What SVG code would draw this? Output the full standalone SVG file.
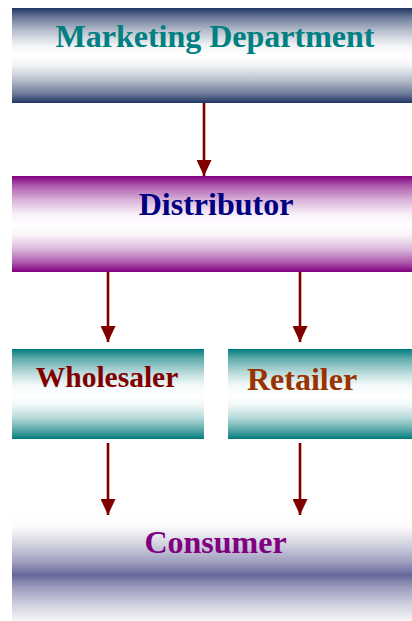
<svg xmlns="http://www.w3.org/2000/svg" width="412" height="621" viewBox="0 0 412 621">
  <style>
    .label { font-family: "Liberation Serif", "Times New Roman", serif; font-weight: bold; font-size: 32px; text-anchor: middle; }
    .conn { stroke: #800000; stroke-width: 2.6; fill: none; }
  </style>
  <defs>
    <linearGradient id="gNavy" x1="0" y1="0" x2="0" y2="1">
      <stop offset="0" stop-color="#1f3563"/>
      <stop offset="0.1" stop-color="#6d7c9a"/>
      <stop offset="0.25" stop-color="#bcc2d0"/>
      <stop offset="0.4" stop-color="#f4f5f7"/>
      <stop offset="0.5" stop-color="#ffffff"/>
      <stop offset="0.6" stop-color="#f4f5f7"/>
      <stop offset="0.75" stop-color="#bcc2d0"/>
      <stop offset="0.9" stop-color="#6d7c9a"/>
      <stop offset="1" stop-color="#1f3563"/>
    </linearGradient>
    <linearGradient id="gPurple" x1="0" y1="0" x2="0" y2="1">
      <stop offset="0" stop-color="#800080"/>
      <stop offset="0.1" stop-color="#ad59ad"/>
      <stop offset="0.25" stop-color="#d9b3d9"/>
      <stop offset="0.4" stop-color="#f9f2f9"/>
      <stop offset="0.52" stop-color="#ffffff"/>
      <stop offset="0.62" stop-color="#f9f2f9"/>
      <stop offset="0.77" stop-color="#d9b3d9"/>
      <stop offset="0.9" stop-color="#ad59ad"/>
      <stop offset="1" stop-color="#800080"/>
    </linearGradient>
    <linearGradient id="gTeal" x1="0" y1="0" x2="0" y2="1">
      <stop offset="0" stop-color="#007b7b"/>
      <stop offset="0.1" stop-color="#59a9a9"/>
      <stop offset="0.25" stop-color="#b3d7d7"/>
      <stop offset="0.4" stop-color="#f2f9f9"/>
      <stop offset="0.52" stop-color="#ffffff"/>
      <stop offset="0.62" stop-color="#f2f9f9"/>
      <stop offset="0.77" stop-color="#b3d7d7"/>
      <stop offset="0.9" stop-color="#59a9a9"/>
      <stop offset="1" stop-color="#007b7b"/>
    </linearGradient>
    <linearGradient id="gSlate" x1="0" y1="0" x2="0" y2="1">
      <stop offset="0" stop-color="#ffffff"/>
      <stop offset="0.1" stop-color="#fafafb"/>
      <stop offset="0.25" stop-color="#d1d1e0"/>
      <stop offset="0.4" stop-color="#9b9bbd"/>
      <stop offset="0.5" stop-color="#666699"/>
      <stop offset="0.6" stop-color="#9b9bbd"/>
      <stop offset="0.75" stop-color="#d1d1e0"/>
      <stop offset="0.9" stop-color="#fafafb"/>
      <stop offset="1" stop-color="#ffffff"/>
    </linearGradient>
    <marker id="head" viewBox="0 0 16 15" refX="16" refY="7.5" markerWidth="16" markerHeight="15" markerUnits="userSpaceOnUse" orient="auto">
      <path d="M0,0 L16,7.5 L0,15 Z" fill="#800000"/>
    </marker>
  </defs>

  <g id="marketing">
    <rect x="12" y="8" width="400" height="95" fill="url(#gNavy)"/>
    <text class="label" x="215" y="47" fill="#008080">Marketing Department</text>
  </g>

  <g id="distributor">
    <rect x="12" y="176" width="400" height="96" fill="url(#gPurple)"/>
    <text class="label" x="216" y="215" fill="#000080">Distributor</text>
  </g>

  <g id="wholesaler">
    <rect x="12" y="349" width="192" height="90" fill="url(#gTeal)"/>
    <text class="label" x="107" y="387" fill="#800000" style="font-size:29.5px">Wholesaler</text>
  </g>

  <g id="retailer">
    <rect x="228" y="349" width="184" height="90" fill="url(#gTeal)"/>
    <text class="label" x="302" y="390" fill="#993300">Retailer</text>
  </g>

  <g id="consumer">
    <rect x="12" y="515" width="400" height="120" fill="url(#gSlate)"/>
    <text class="label" x="215.5" y="553" fill="#800080">Consumer</text>
  </g>

  <g id="connectors">
    <line class="conn" x1="204" y1="103" x2="204" y2="176" marker-end="url(#head)"/>
    <line class="conn" x1="108" y1="272" x2="108" y2="342" marker-end="url(#head)"/>
    <line class="conn" x1="300" y1="272" x2="300" y2="342" marker-end="url(#head)"/>
    <line class="conn" x1="108" y1="443" x2="108" y2="515" marker-end="url(#head)"/>
    <line class="conn" x1="300" y1="443" x2="300" y2="515" marker-end="url(#head)"/>
  </g>
</svg>
